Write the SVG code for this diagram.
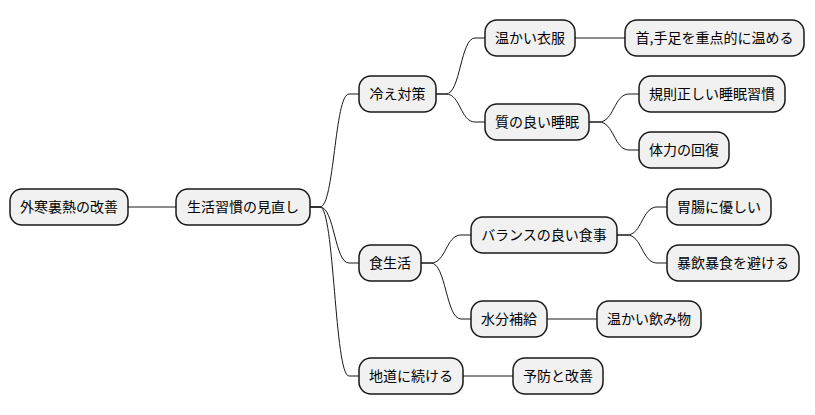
<svg xmlns="http://www.w3.org/2000/svg" width="815" height="415" viewBox="0 0 815 415">
<style>
.n rect{fill:#f1f1f1;stroke:#181818;stroke-width:1.5}
.n text{font-family:"Noto Sans CJK JP","Noto Sans",sans-serif;font-size:14px;fill:#000;text-anchor:middle}
.c path{fill:none;stroke:#181818;stroke-width:1}
</style>
<rect width="815" height="415" fill="#fff"/>
<g class="c">
<path d="M128,207 H176"/>
<path d="M310,207 H320 C334.5,207 334.5,94 349,94 H359"/>
<path d="M310,207 H320 C334.5,207 334.5,263 349,263 H359"/>
<path d="M310,207 H320 C334.5,207 334.5,376 349,376 H359"/>
<path d="M436,94 H446 C460.5,94 460.5,38 475,38 H485"/>
<path d="M436,94 H446 C460.5,94 460.5,122 475,122 H485"/>
<path d="M575,38 H625"/>
<path d="M589,122 H599 C614,122 614,94 629,94 H639"/>
<path d="M589,122 H599 C614,122 614,150 629,150 H639"/>
<path d="M421,263 H431 C446,263 446,235 461,235 H471"/>
<path d="M421,263 H431 C446,263 446,319 461,319 H471"/>
<path d="M617,235 H627 C642,235 642,207 657,207 H667"/>
<path d="M617,235 H627 C642,235 642,263 657,263 H667"/>
<path d="M547,319 H597"/>
<path d="M463,376 H513"/>
</g>
<g id="root" class="n"><rect x="10" y="189" width="118" height="36" rx="12"/><text x="69" y="212">外寒裏熱の改善</text></g>
<g id="life" class="n"><rect x="176" y="189" width="134" height="36" rx="12"/><text x="243" y="212">生活習慣の見直し</text></g>
<g id="cold" class="n"><rect x="359" y="76" width="77" height="36" rx="12"/><text x="397.5" y="99">冷え対策</text></g>
<g id="clothes" class="n"><rect x="485" y="20" width="90" height="36" rx="12"/><text x="530" y="43">温かい衣服</text></g>
<g id="neck" class="n"><rect x="625" y="20" width="179" height="36" rx="12"/><text x="714.5" y="43">首,手足を重点的に温める</text></g>
<g id="sleep" class="n"><rect x="485" y="104" width="104" height="36" rx="12"/><text x="537" y="127">質の良い睡眠</text></g>
<g id="rule" class="n"><rect x="639" y="76" width="146" height="36" rx="12"/><text x="712" y="99">規則正しい睡眠習慣</text></g>
<g id="stamina" class="n"><rect x="639" y="132" width="90" height="36" rx="12"/><text x="684" y="155">体力の回復</text></g>
<g id="diet" class="n"><rect x="359" y="245" width="62" height="36" rx="12"/><text x="390" y="268">食生活</text></g>
<g id="balance" class="n"><rect x="471" y="217" width="146" height="36" rx="12"/><text x="544" y="240">バランスの良い食事</text></g>
<g id="stomach" class="n"><rect x="667" y="189" width="104" height="36" rx="12"/><text x="719" y="212">胃腸に優しい</text></g>
<g id="binge" class="n"><rect x="667" y="245" width="132" height="36" rx="12"/><text x="733" y="268">暴飲暴食を避ける</text></g>
<g id="water" class="n"><rect x="471" y="301" width="76" height="36" rx="12"/><text x="509" y="324">水分補給</text></g>
<g id="drink" class="n"><rect x="597" y="301" width="104" height="36" rx="12"/><text x="649" y="324">温かい飲み物</text></g>
<g id="steady" class="n"><rect x="359" y="358" width="104" height="36" rx="12"/><text x="411" y="381">地道に続ける</text></g>
<g id="prevent" class="n"><rect x="513" y="358" width="90" height="36" rx="12"/><text x="558" y="381">予防と改善</text></g>
</svg>
